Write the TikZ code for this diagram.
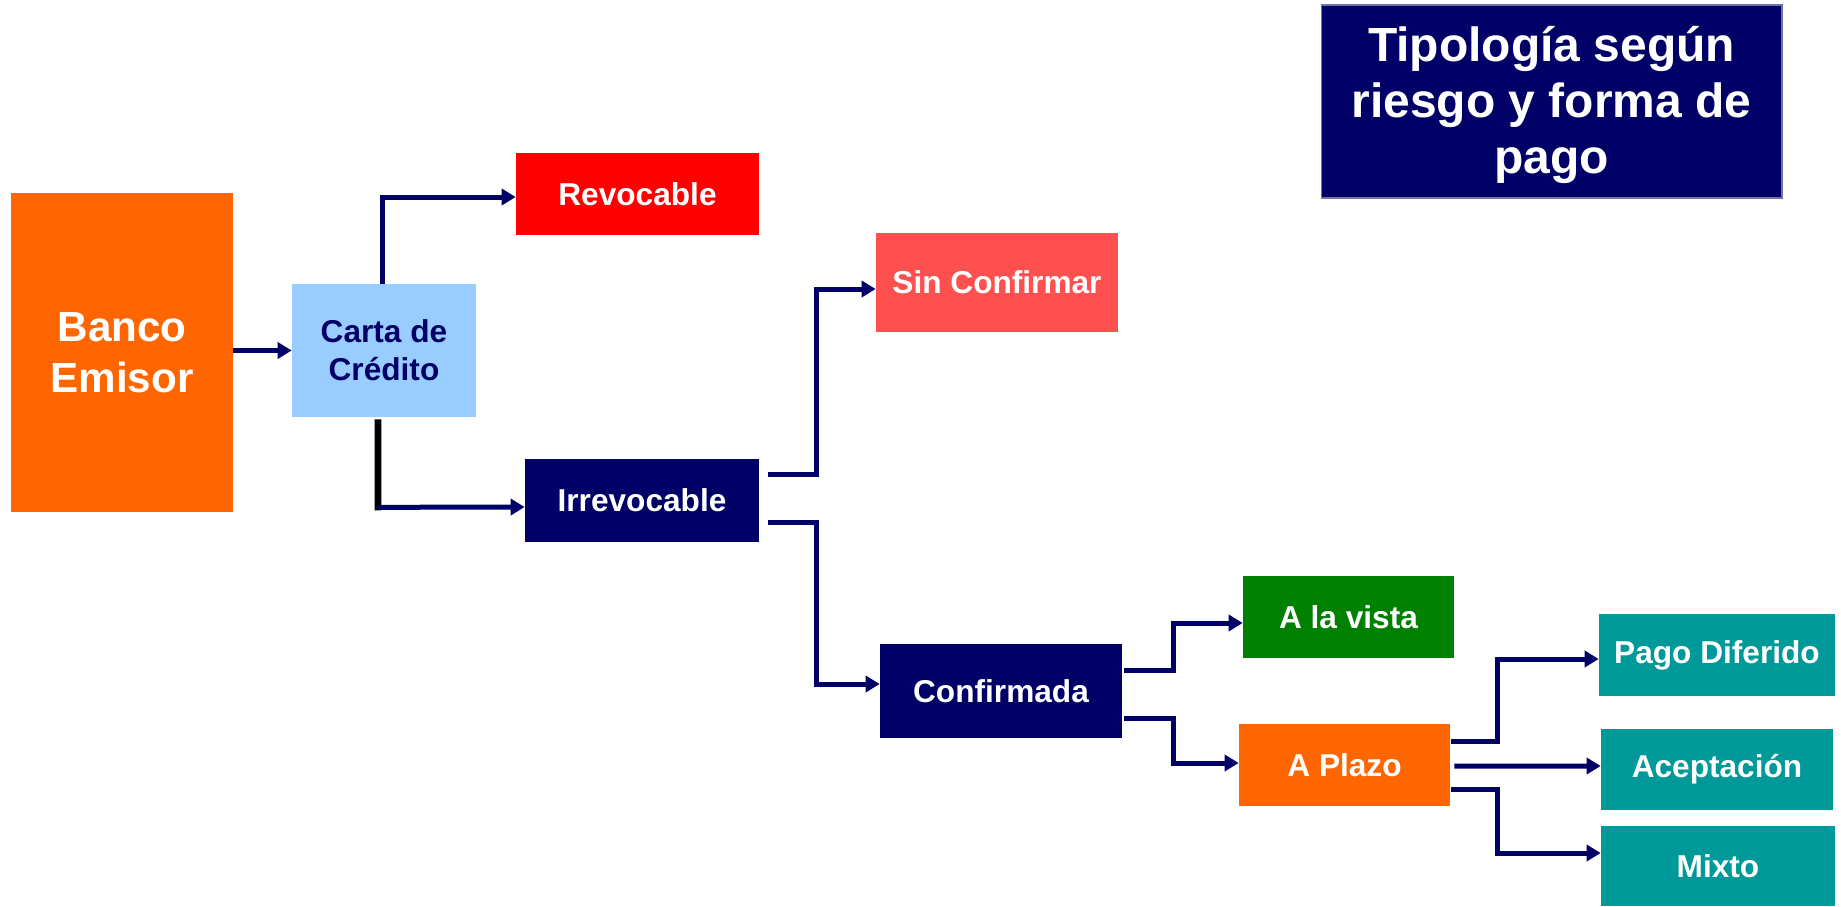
\documentclass[tikz,border=0pt]{standalone}
\usepackage{fontspec}
\setmainfont{Liberation Sans}
\usetikzlibrary{arrows.meta,calc}
\definecolor{navy}{HTML}{000066}
\definecolor{orng}{HTML}{FF6600}
\definecolor{lblue}{HTML}{99CCFF}
\definecolor{rred}{HTML}{FF0000}
\definecolor{salmon}{HTML}{FF5050}
\definecolor{grn}{HTML}{008000}
\definecolor{tealb}{HTML}{009999}
\tikzset{
  box/.style={rectangle, inner sep=0pt, text=white, align=center,
    font=\bfseries\fontsize{18pt}{21.5pt}\selectfont},
  conn/.style={draw=navy, line width=0.1cm, -{Triangle[length=0.28cm,width=0.32cm]}},
  blackseg/.style={draw=black, line width=0.135cm},
}
\begin{document}
\begin{tikzpicture}[x=0.02cm,y=-0.02cm]
\useasboundingbox (0,0) rectangle (1841,906);

% title
\node[box, fill=navy, draw=navy!55!white, line width=0.6pt,
      minimum width=9.22cm, minimum height=3.86cm,
      font=\bfseries\fontsize{27.3pt}{31.6pt}\selectfont] (title) at (1551.5,101.5)
  {\rule{0pt}{28pt}Tipología según\\riesgo y forma de\\pago\rule[-9.8pt]{0pt}{0pt}};

% nodes
\node[box, fill=orng, minimum width=4.44cm, minimum height=6.38cm,
      font=\bfseries\fontsize{24pt}{29pt}\selectfont] (banco) at (122,352.5) {Banco\\Emisor};
\node[box, fill=lblue, text=navy, minimum width=3.68cm, minimum height=2.66cm] (carta) at (384,350.5) {Carta de\\Crédito};
\node[box, fill=rred, minimum width=4.86cm, minimum height=1.64cm] (revoc) at (637.5,194) {Revocable};
\node[box, fill=navy, minimum width=4.68cm, minimum height=1.66cm] (irrev) at (642,500.5) {Irrevocable};
\node[box, fill=salmon, minimum width=4.84cm, minimum height=1.98cm] (sinconf) at (997,282.5) {Sin Confirmar};
\node[box, fill=navy, minimum width=4.84cm, minimum height=1.88cm] (confirm) at (1001,691) {Confirmada};
\node[box, fill=grn, minimum width=4.22cm, minimum height=1.64cm] (vista) at (1348.5,617) {A la vista};
\node[box, fill=orng, minimum width=4.22cm, minimum height=1.64cm] (plazo) at (1344.5,765) {A Plazo};
\node[box, fill=tealb, minimum width=4.72cm, minimum height=1.64cm] (pago) at (1717,655) {Pago Diferido};
\node[box, fill=tealb, minimum width=4.64cm, minimum height=1.62cm] (acept) at (1717,769.5) {Aceptación};
\node[box, fill=tealb, minimum width=4.68cm, minimum height=1.60cm] (mixto) at (1718,866) {Mixto};

% connectors
\draw[conn] (banco.east |- carta.west) -- (carta.west);
\draw[conn] ([xshift=-0.04cm]carta.north) |- ([yshift=-0.06cm]revoc.west);

\coordinate (cb) at ($(carta.south)+(-6,90)$);
\draw[blackseg] ([xshift=-0.12cm,yshift=-0.04cm]carta.south) -- ($(cb)+(0,3)$);
\draw[conn] (cb) -- ([yshift=-0.13cm]irrev.west);

\coordinate (i1) at ($(irrev.east)+(9,-26.5)$);
\coordinate (i2) at ($(irrev.east)+(9,21.5)$);
\draw[conn] (i1) -- ++(48,0) |- ([yshift=-0.13cm]sinconf.west);
\draw[conn] (i2) -- ++(48,0) |- ([yshift=0.14cm]confirm.west);

\coordinate (c1) at ($(confirm.east)+(2,-21)$);
\coordinate (c2) at ($(confirm.east)+(2,27)$);
\draw[conn] (c1) -- ++(49,0) |- ([yshift=-0.12cm]vista.west);
\draw[conn] (c2) -- ++(49,0) |- ([yshift=0.04cm]plazo.west);

\coordinate (p1) at ($(plazo.east)+(1,-24)$);
\coordinate (p2) at ($(plazo.east)+(4,1)$);
\coordinate (p3) at ($(plazo.east)+(1,24)$);
\draw[conn] (p1) -- ++(46,0) |- ([yshift=-0.08cm]pago.west);
\draw[conn] (p2) -- ([yshift=0.07cm]acept.west);
\draw[conn] (p3) -- ++(46,0) |- ([yshift=0.26cm]mixto.west);
\end{tikzpicture}
\end{document}
